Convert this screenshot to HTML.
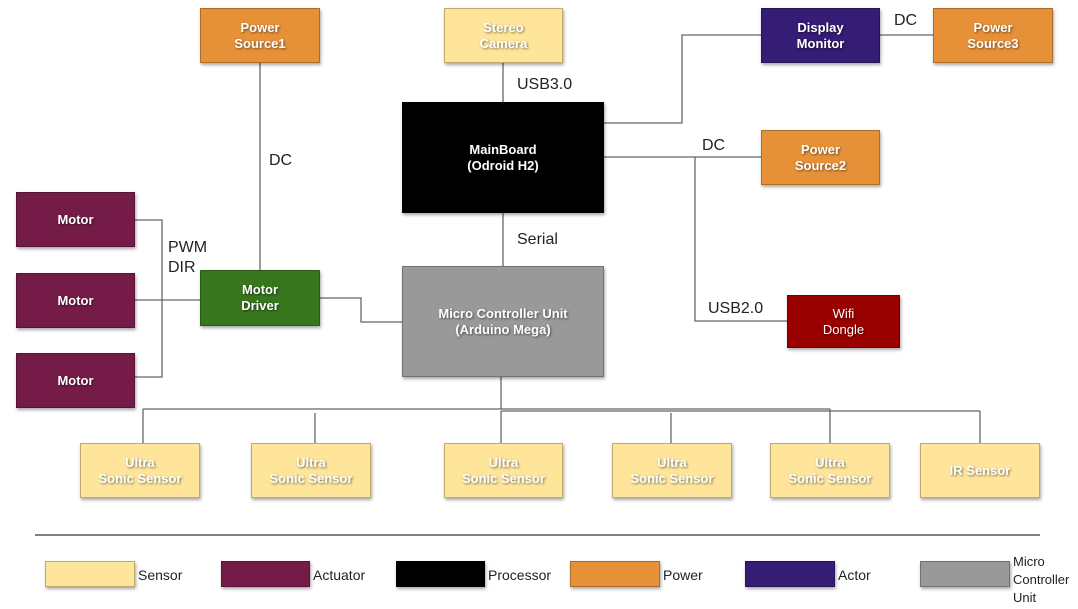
<!DOCTYPE html>
<html><head><meta charset="utf-8"><style>
body{margin:0;width:1078px;height:609px;background:#fff;position:relative;overflow:hidden;font-family:"Liberation Sans",sans-serif}
.b{position:absolute;display:flex;align-items:center;justify-content:center;text-align:center;color:#fff;font-weight:bold;font-size:13px;line-height:16px;box-shadow:1px 2px 3px rgba(0,0,0,.35);box-sizing:border-box;border:1px solid rgba(0,0,0,.25);text-shadow:1px 1px 2px rgba(0,0,0,.5)}
.s{background:#FFE599}.o{background:#E69138}.m{background:#741B47}
.l{position:absolute;font-size:16px;color:#222}
.t{position:absolute;font-size:14px;color:#222}
svg{position:absolute;left:0;top:0}
</style></head><body>
<svg width="1078" height="609"><g stroke="#666" stroke-width="1.3" fill="none">
<path d="M260 63V270"/><path d="M503 63V102"/><path d="M604 123H682V35H761"/><path d="M880 35H933"/>
<path d="M604 157H761"/><path d="M695 157V321H787"/><path d="M503 213V266"/>
<path d="M320 298H361V322H402"/><path d="M135 220H162V377H135"/><path d="M135 300H200"/>
<path d="M501 377V409"/><path d="M143 409H830"/><path d="M501 411H980"/>
<path d="M143 409V443M315 413V443M501 411V443M671 413V443M830 409V443M980 411V443"/>
<path d="M35 535H1040" stroke="#555" stroke-width="1.5"/>
</g></svg>
<div class="b o" style="left:200px;top:8px;width:120px;height:55px">Power<br>Source1</div>
<div class="b s" style="left:444px;top:8px;width:119px;height:55px">Stereo<br>Camera</div>
<div class="b" style="left:761px;top:8px;width:119px;height:55px;background:#351C75">Display<br>Monitor</div>
<div class="b o" style="left:933px;top:8px;width:120px;height:55px">Power<br>Source3</div>
<div class="b" style="left:402px;top:102px;width:202px;height:111px;background:#000">MainBoard<br>(Odroid H2)</div>
<div class="b o" style="left:761px;top:130px;width:119px;height:55px">Power<br>Source2</div>
<div class="b" style="left:787px;top:295px;width:113px;height:53px;background:#990000;font-weight:normal">Wifi<br>Dongle</div>
<div class="b" style="left:402px;top:266px;width:202px;height:111px;background:#999">Micro Controller Unit<br>(Arduino Mega)</div>
<div class="b" style="left:200px;top:270px;width:120px;height:56px;background:#38761D">Motor<br>Driver</div>
<div class="b m" style="left:16px;top:192px;width:119px;height:55px">Motor</div>
<div class="b m" style="left:16px;top:273px;width:119px;height:55px">Motor</div>
<div class="b m" style="left:16px;top:353px;width:119px;height:55px">Motor</div>
<div class="b s" style="left:80px;top:443px;width:120px;height:55px">Ultra<br>Sonic Sensor</div>
<div class="b s" style="left:251px;top:443px;width:120px;height:55px">Ultra<br>Sonic Sensor</div>
<div class="b s" style="left:444px;top:443px;width:119px;height:55px">Ultra<br>Sonic Sensor</div>
<div class="b s" style="left:612px;top:443px;width:120px;height:55px">Ultra<br>Sonic Sensor</div>
<div class="b s" style="left:770px;top:443px;width:120px;height:55px">Ultra<br>Sonic Sensor</div>
<div class="b s" style="left:920px;top:443px;width:120px;height:55px">IR Sensor</div>
<div class="l" style="left:269px;top:152px">DC</div>
<div class="l" style="left:517px;top:76px">USB3.0</div>
<div class="l" style="left:894px;top:12px">DC</div>
<div class="l" style="left:702px;top:137px">DC</div>
<div class="l" style="left:517px;top:231px">Serial</div>
<div class="l" style="left:708px;top:300px">USB2.0</div>
<div class="l" style="left:168px;top:238px;line-height:20px">PWM<br>DIR</div>
<div class="b s" style="left:45px;top:561px;width:90px;height:26px"></div><div class="t" style="left:138px;top:567px">Sensor</div>
<div class="b m" style="left:221px;top:561px;width:89px;height:26px"></div><div class="t" style="left:313px;top:567px">Actuator</div>
<div class="b" style="left:396px;top:561px;width:89px;height:26px;background:#000"></div><div class="t" style="left:488px;top:567px">Processor</div>
<div class="b o" style="left:570px;top:561px;width:90px;height:26px"></div><div class="t" style="left:663px;top:567px">Power</div>
<div class="b" style="left:745px;top:561px;width:90px;height:26px;background:#351C75"></div><div class="t" style="left:838px;top:567px">Actor</div>
<div class="b" style="left:920px;top:561px;width:90px;height:26px;background:#999"></div><div class="t" style="left:1013px;top:553px;line-height:18px;font-size:13px">Micro<br>Controller<br>Unit</div>
</body></html>
